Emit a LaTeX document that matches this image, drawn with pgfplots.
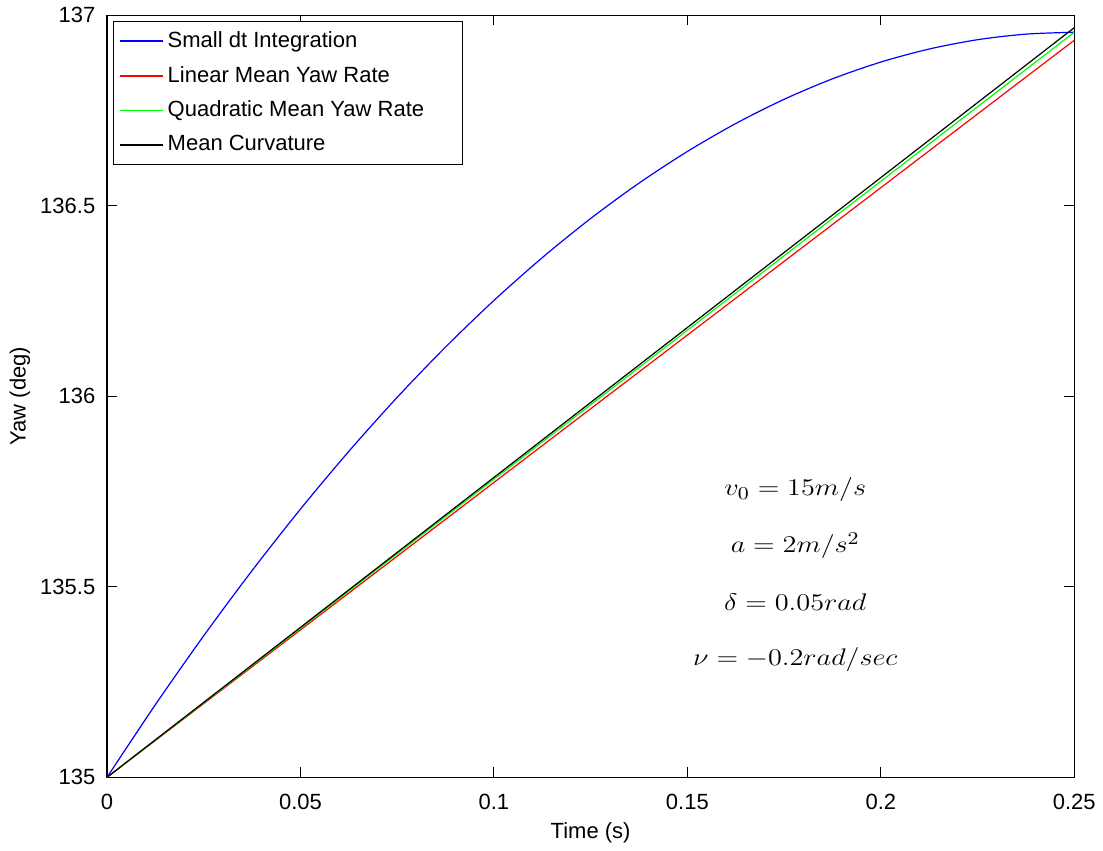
\documentclass[border=0pt]{standalone}
\usepackage[no-math]{fontspec}
\setmainfont{Liberation Sans}
\usepackage{pgfplots}
\pgfplotsset{compat=1.18}
\definecolor{pblue}{rgb}{0,0,1}
\definecolor{pred}{rgb}{1,0,0}
\definecolor{pgreen}{rgb}{0,1,0}
\newcommand{\ann}[1]{\scalebox{1.18}[1]{$#1$}}
\begin{document}
\fontsize{11}{13.2}\selectfont
\begin{tikzpicture}
\begin{axis}[
  scale only axis,
  width=483.5pt, height=381pt,
  xmin=0, xmax=0.25, ymin=135, ymax=137,
  xtick={0,0.05,0.1,0.15,0.2,0.25},
  xticklabels={0,0.05,0.1,0.15,0.2,0.25},
  ytick={135,135.5,136,136.5,137},
  yticklabels={135,135.5,136,136.5,137},
  tick align=inside,
  major tick length=5pt,
  tick style={black, line width=0.5pt},
  axis line style={line width=0.6pt},
  /pgf/number format/assume math mode=true,
  tick label style={font=\fontsize{11}{13.2}\selectfont},
  label style={font=\fontsize{11}{13.2}\selectfont},
  xlabel={Time (s)}, ylabel={Yaw (deg)},
  xlabel style={at={(axis description cs:0.5,0)}, anchor=north, yshift=-19pt},
  ylabel style={at={(axis description cs:0,0.5)}, anchor=south, yshift=34.5pt},
  x tick label style={yshift=-4.5pt},
  y tick label style={xshift=-2pt},
  legend style={at={(axis description cs:0,1)}, anchor=north west, xshift=3pt, yshift=-3pt,
    font=\fontsize{11}{13.2}\selectfont,
    row sep=3.7pt, inner sep=3pt, cells={anchor=west}},
  legend image code/.code={\draw[#1, line width=0.8pt] (0cm,0cm) -- (0.75cm,0cm);},
  clip=true,
]
\addplot[draw=pblue, line width=0.6pt, smooth] coordinates {
(0,135) (0.0125,135.19061) (0.025,135.37145) (0.0375,135.54251) (0.05,135.7038)
(0.0625,135.85531) (0.075,135.99705) (0.0875,136.12901) (0.1,136.2512)
(0.1125,136.36361) (0.125,136.46625) (0.1375,136.55911) (0.15,136.6422)
(0.1625,136.71551) (0.175,136.77905) (0.1875,136.83281) (0.2,136.8768)
(0.2125,136.91101) (0.225,136.93545) (0.2375,136.95011) (0.25,136.955)};
\addlegendentry{Small dt Integration}
\addplot[draw=pred, line width=0.6pt] coordinates {
(0,135) (0.05,135.3868) (0.1,135.7736) (0.15,136.1604) (0.2,136.5472) (0.25,136.934)};
\addlegendentry{Linear Mean Yaw Rate}
\addplot[draw=pgreen, line width=0.6pt] coordinates {
(0,135) (0.05,135.391) (0.1,135.782) (0.15,136.173) (0.2,136.564) (0.25,136.955)};
\addlegendentry{Quadratic Mean Yaw Rate\hspace*{14pt}}
\addplot[draw=black, line width=0.6pt] coordinates {
(0,135) (0.05,135.3934) (0.1,135.7868) (0.15,136.1802) (0.2,136.5736) (0.25,136.967)};
\addlegendentry{Mean Curvature}
\node[font=\fontsize{12.5}{15}\selectfont, anchor=base] at (axis cs:0.1779,135.739) {\ann{v_0 = 15m/s}};
\node[font=\fontsize{12.5}{15}\selectfont, anchor=base] at (axis cs:0.1779,135.589) {\ann{a = 2m/s^2}};
\node[font=\fontsize{12.5}{15}\selectfont, anchor=base] at (axis cs:0.1779,135.437) {\ann{\delta = 0.05rad}};
\node[font=\fontsize{12.5}{15}\selectfont, anchor=base] at (axis cs:0.1779,135.293) {\ann{\nu = -0.2rad/sec}};
\end{axis}
\path (current axis.south west) ++(-53.5pt,-36.5pt) coordinate (bl);
\path (current axis.north east) ++(14pt,6.25pt) coordinate (tr);
\useasboundingbox (bl) rectangle (tr);
\end{tikzpicture}
\end{document}
